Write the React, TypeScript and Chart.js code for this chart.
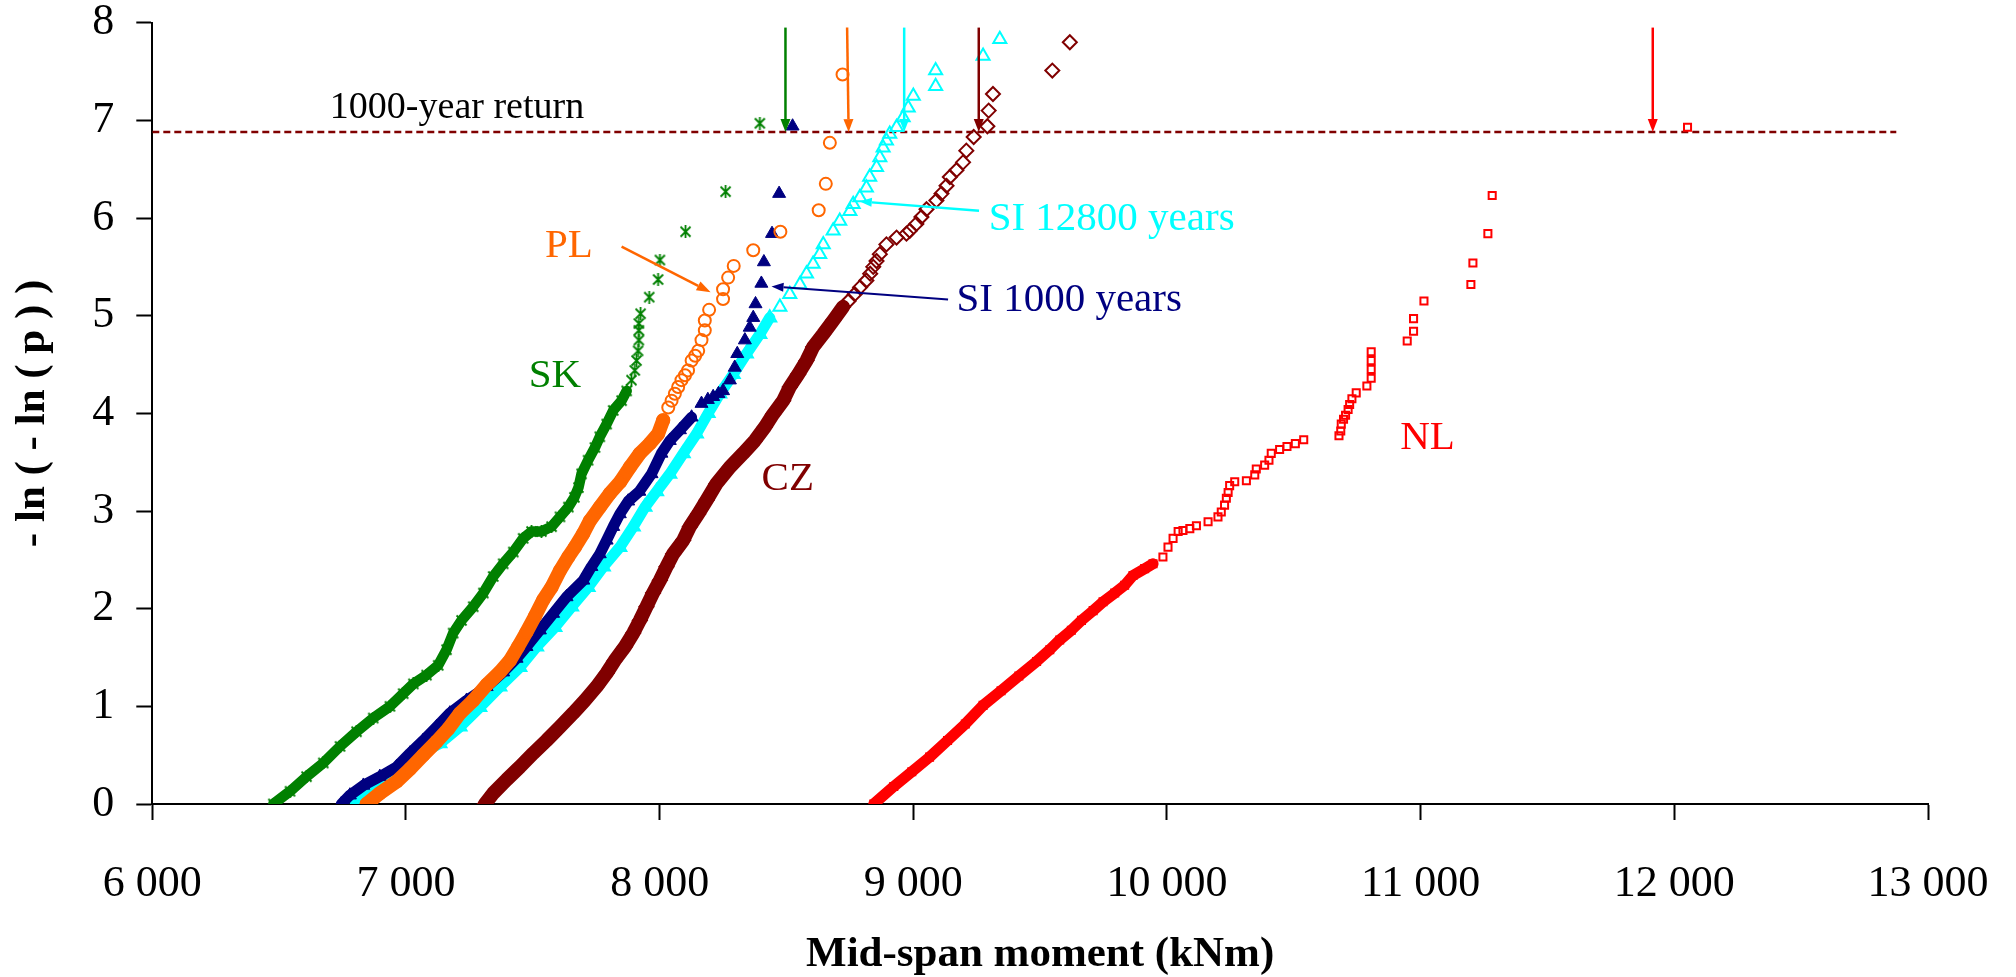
import { useEffect, useRef } from 'react';
import { Chart, registerables } from 'chart.js';

Chart.register(...registerables);

type Pt = [number, number];

// ---------- data (x = mid-span moment kNm, y = -ln(-ln(p))) ----------
const skDense: Pt[] = [
  [6477, 0.0], [6543, 0.13], [6608, 0.28], [6674, 0.42], [6740, 0.59], [6805, 0.74], [6871, 0.88],
  [6937, 1.0], [6989, 1.13], [7029, 1.23], [7081, 1.32], [7127, 1.42], [7160, 1.58], [7186, 1.75],
  [7219, 1.88], [7265, 2.02], [7305, 2.16], [7344, 2.33], [7383, 2.46], [7423, 2.58], [7462, 2.72],
  [7495, 2.79], [7534, 2.79], [7574, 2.84], [7607, 2.94], [7640, 3.04], [7664, 3.14], [7680, 3.24],
  [7692, 3.38], [7718, 3.52], [7745, 3.65], [7764, 3.76], [7791, 3.89], [7817, 4.03], [7850, 4.13],
  [7870, 4.23],
];
const skTail: Pt[] = [
  [7889, 4.34], [7902, 4.44], [7909, 4.54], [7915, 4.64], [7918, 4.75], [7918, 4.85],
  [7918, 4.92], [7925, 5.02], [7959, 5.19], [7994, 5.37], [8001, 5.57], [8102, 5.86], [8260, 6.27],
  [8395, 6.97],
];

const plDense: Pt[] = [
  [6845, 0.0], [6897, 0.11], [6963, 0.23], [7016, 0.36], [7068, 0.5], [7121, 0.64], [7167, 0.77],
  [7213, 0.93], [7265, 1.06], [7318, 1.22], [7370, 1.35], [7410, 1.47], [7442, 1.61], [7475, 1.76],
  [7508, 1.92], [7541, 2.09], [7574, 2.22], [7607, 2.39], [7640, 2.53], [7666, 2.63], [7699, 2.77],
  [7725, 2.9], [7764, 3.04], [7804, 3.18], [7845, 3.3], [7883, 3.45], [7922, 3.59], [7961, 3.69],
  [7994, 3.79], [8014, 3.93],
];
const plTail: Pt[] = [
  [8034, 4.06], [8047, 4.13], [8060, 4.2], [8073, 4.27], [8086, 4.34], [8100, 4.39], [8112, 4.44],
  [8126, 4.54], [8140, 4.59], [8152, 4.64], [8165, 4.75], [8178, 4.85], [8178, 4.95], [8195, 5.06],
  [8250, 5.17], [8250, 5.27], [8270, 5.39], [8292, 5.51], [8369, 5.67], [8476, 5.86], [8627, 6.08],
  [8655, 6.35], [8671, 6.77], [8721, 7.47],
];

const si1000Dense: Pt[] = [
  [6745, 0.0], [6779, 0.09], [6832, 0.19], [6897, 0.28], [6963, 0.38], [7016, 0.52], [7068, 0.65],
  [7121, 0.79], [7173, 0.93], [7239, 1.06], [7318, 1.2], [7383, 1.35], [7436, 1.49], [7475, 1.61],
  [7528, 1.78], [7580, 1.95], [7633, 2.12], [7699, 2.29], [7731, 2.43], [7764, 2.56], [7791, 2.7],
  [7817, 2.84], [7843, 2.97], [7876, 3.1], [7920, 3.2], [7968, 3.38], [8007, 3.59], [8040, 3.72],
  [8080, 3.83], [8126, 3.96],
];
const si1000Tail: Pt[] = [
  [8165, 4.1], [8190, 4.14], [8211, 4.17], [8232, 4.2], [8250, 4.23], [8277, 4.34], [8296, 4.47],
  [8306, 4.61], [8336, 4.75], [8355, 4.88], [8369, 4.98], [8378, 5.12], [8401, 5.33], [8411, 5.55],
  [8443, 5.84], [8471, 6.25], [8524, 6.94],
];

const si12800Dense: Pt[] = [
  [6800, 0.0], [6900, 0.25], [6963, 0.36], [7055, 0.51], [7134, 0.62], [7213, 0.79], [7291, 0.99],
  [7370, 1.2], [7449, 1.4], [7515, 1.61], [7587, 1.81], [7653, 2.02], [7718, 2.22], [7778, 2.43],
  [7843, 2.63], [7896, 2.84], [7942, 3.04], [7988, 3.2], [8040, 3.38], [8093, 3.59], [8145, 3.79],
  [8191, 4.0], [8237, 4.2], [8290, 4.4], [8342, 4.61], [8395, 4.81], [8434, 4.98],
];
const si12800Tail: Pt[] = [
  [8474, 5.09], [8513, 5.22], [8553, 5.32], [8579, 5.43], [8605, 5.53], [8631, 5.63], [8645, 5.73],
  [8684, 5.87], [8710, 5.97], [8750, 6.07], [8763, 6.14], [8789, 6.21], [8815, 6.31], [8828, 6.42],
  [8855, 6.52], [8868, 6.62], [8881, 6.72], [8894, 6.79], [8907, 6.86], [8934, 6.93], [8960, 7.03],
  [8980, 7.13], [9000, 7.25], [9088, 7.35], [9088, 7.51], [9275, 7.66], [9341, 7.83],
];

const czDense: Pt[] = [
  [7311, 0.0], [7344, 0.11], [7397, 0.25], [7449, 0.38], [7502, 0.52], [7554, 0.65], [7607, 0.79],
  [7659, 0.93], [7705, 1.06], [7751, 1.2], [7791, 1.34], [7823, 1.47], [7863, 1.61], [7896, 1.75],
  [7922, 1.88], [7948, 2.02], [7974, 2.16], [8001, 2.29], [8027, 2.43], [8053, 2.56], [8093, 2.7],
  [8119, 2.84], [8152, 2.97], [8185, 3.11], [8224, 3.28], [8277, 3.45], [8329, 3.59], [8375, 3.72],
  [8415, 3.86], [8447, 3.99], [8487, 4.13], [8513, 4.27], [8546, 4.4], [8579, 4.54], [8605, 4.68],
  [8644, 4.81], [8684, 4.95], [8723, 5.09],
];
const czTail: Pt[] = [
  [8745, 5.15], [8769, 5.22], [8790, 5.29], [8815, 5.36], [8830, 5.43], [8842, 5.5], [8855, 5.56],
  [8868, 5.63], [8894, 5.73], [8934, 5.8], [8973, 5.84], [8986, 5.87], [9012, 5.94], [9032, 6.01],
  [9052, 6.09], [9091, 6.18], [9111, 6.25], [9131, 6.33], [9144, 6.42], [9170, 6.49], [9196, 6.57],
  [9209, 6.69], [9238, 6.83], [9292, 6.94], [9297, 7.1], [9314, 7.27], [9548, 7.51], [9617, 7.8],
];

const nlDense: Pt[] = [
  [8844, 0.0], [8923, 0.18], [8994, 0.33], [9064, 0.48], [9135, 0.65], [9205, 0.82], [9275, 1.01],
  [9346, 1.16], [9416, 1.31], [9486, 1.46], [9538, 1.58], [9577, 1.68], [9623, 1.78], [9663, 1.88],
  [9709, 1.98], [9748, 2.07], [9794, 2.16], [9833, 2.24], [9866, 2.34], [9912, 2.41], [9945, 2.46],
];
const nlTail: Pt[] = [
  [9984, 2.53], [10004, 2.63], [10024, 2.72], [10044, 2.79], [10063, 2.8], [10090, 2.82], [10116, 2.85],
  [10162, 2.89], [10201, 2.94], [10214, 2.99], [10227, 3.06], [10234, 3.13], [10241, 3.19], [10247, 3.26],
  [10267, 3.3], [10313, 3.31], [10346, 3.37], [10352, 3.43], [10385, 3.47], [10402, 3.52], [10411, 3.59],
  [10444, 3.63], [10473, 3.66], [10506, 3.69], [10539, 3.73], [10678, 3.77], [10685, 3.82], [10687, 3.89],
  [10696, 3.94], [10704, 3.98], [10714, 4.04], [10720, 4.09], [10729, 4.15], [10746, 4.21], [10788, 4.28],
  [10805, 4.36], [10805, 4.45], [10805, 4.54], [10805, 4.63], [10947, 4.74], [10972, 4.84], [10972, 4.97],
  [11013, 5.15], [11198, 5.32], [11206, 5.54], [11265, 5.84], [11282, 6.23], [12052, 6.93],
];

const returnLevel = 6.88;
const returnLineX: number[] = [6000, 12875];

const xTickValues = [6000, 7000, 8000, 9000, 10000, 11000, 12000, 13000];
const xTickLabels = ['6 000', '7 000', '8 000', '9 000', '10 000', '11 000', '12 000', '13 000'];
const yTickLabels = ['0', '1', '2', '3', '4', '5', '6', '7', '8'];

// annotation anchors in data units
const arrowTop = 7.95;
const skArrowX = 8496;
const plArrowX: Pt = [8739, 8745];
const si12800ArrowX = 8964;
const czArrowX = 9258;
const nlArrowX = 11915;
const plPointer: Pt[] = [[7850, 5.707], [8201, 5.24]];
const si12800Pointer: Pt[] = [[9259, 6.075], [8789, 6.17]];
const si1000Pointer: Pt[] = [[9137, 5.165], [8441, 5.3]];

const labelReturn: Pt = [6700, 7.027];
const labelSK: Pt = [7587, 4.268];
const labelPL: Pt = [7642, 5.605];
const labelCZ: Pt = [8505, 3.212];
const labelSI12800: Pt = [9297, 5.878];
const labelSI1000: Pt = [9170, 5.053];
const labelNL: Pt = [11027, 3.638];

// ---------- styles ----------
const FONT = '"Liberation Serif", "Times New Roman", Times, serif';
const GREEN = '#008000';
const ORANGE = '#FF6600';
const NAVY = '#000080';
const CYAN = '#00FFFF';
const MAROON = '#800000';
const RED = '#FF0000';

const toXY = (a: Pt[]) => a.map(([x, y]) => ({ x, y }));

function drawArrow(ctx: CanvasRenderingContext2D, x1: number, y1: number, x2: number, y2: number,
  color: string, width: number, headLen: number, headW: number) {
  const dx = x2 - x1, dy = y2 - y1;
  const len = Math.hypot(dx, dy);
  const ux = dx / len, uy = dy / len;
  const bx = x2 - ux * headLen, by = y2 - uy * headLen;
  ctx.strokeStyle = color;
  ctx.lineWidth = width;
  ctx.lineCap = 'butt';
  ctx.beginPath();
  ctx.moveTo(x1, y1);
  ctx.lineTo(bx, by);
  ctx.stroke();
  ctx.fillStyle = color;
  ctx.beginPath();
  ctx.moveTo(x2, y2);
  ctx.lineTo(bx - uy * headW / 2, by + ux * headW / 2);
  ctx.lineTo(bx + uy * headW / 2, by - ux * headW / 2);
  ctx.closePath();
  ctx.fill();
}

const annotationsPlugin = {
  id: 'annotations',
  afterDatasetsDraw(chart: any) {
    const ctx: CanvasRenderingContext2D = chart.ctx;
    const xs = chart.scales.x, ys = chart.scales.y;
    const px = (v: number) => xs.getPixelForValue(v);
    const py = (v: number) => ys.getPixelForValue(v);
    ctx.save();
    const vert: [number, number, string][] = [
      [skArrowX, skArrowX, GREEN],
      [plArrowX[0], plArrowX[1], ORANGE],
      [si12800ArrowX, si12800ArrowX, CYAN],
      [czArrowX, czArrowX, MAROON],
      [nlArrowX, nlArrowX, RED],
    ];
    vert.forEach(([a, b, c]) => drawArrow(ctx, px(a), py(arrowTop), px(b), py(returnLevel), c, 2.5, 13, 10));
    drawArrow(ctx, px(plPointer[0][0]), py(plPointer[0][1]), px(plPointer[1][0]), py(plPointer[1][1]), ORANGE, 2.5, 14, 10);
    drawArrow(ctx, px(si12800Pointer[0][0]), py(si12800Pointer[0][1]), px(si12800Pointer[1][0]), py(si12800Pointer[1][1]), CYAN, 2.4, 12, 9);
    drawArrow(ctx, px(si1000Pointer[0][0]), py(si1000Pointer[0][1]), px(si1000Pointer[1][0]), py(si1000Pointer[1][1]), NAVY, 2, 12, 9);

    const texts: [string, Pt, string, number, CanvasTextAlign][] = [
      ['1000-year return', labelReturn, '#000000', 38, 'left'],
      ['SK', labelSK, GREEN, 41, 'center'],
      ['PL', labelPL, ORANGE, 41, 'center'],
      ['CZ', labelCZ, MAROON, 41, 'center'],
      ['SI 12800 years', labelSI12800, CYAN, 41, 'left'],
      ['SI 1000 years', labelSI1000, NAVY, 41, 'left'],
      ['NL', labelNL, RED, 41, 'center'],
    ];
    ctx.textBaseline = 'alphabetic';
    texts.forEach(([t, at, color, size, align]) => {
      ctx.font = `${size}px ${FONT}`;
      ctx.fillStyle = color;
      ctx.textAlign = align;
      ctx.fillText(t, px(at[0]), py(at[1]));
    });
    ctx.restore();
  },
};

export default function App() {
  const ref = useRef<HTMLCanvasElement>(null);

  useEffect(() => {
    document.body.style.margin = '0';
    if (!ref.current) return;

    const star = document.createElement('canvas');
    star.width = 13;
    star.height = 13;
    const sc = star.getContext('2d')!;
    sc.strokeStyle = GREEN;
    sc.lineWidth = 1.8;
    sc.beginPath();
    sc.moveTo(1.5, 1.5); sc.lineTo(11.5, 11.5);
    sc.moveTo(11.5, 1.5); sc.lineTo(1.5, 11.5);
    sc.moveTo(6.5, 0); sc.lineTo(6.5, 13);
    sc.stroke();

    const mk = (dense: Pt[], tail: Pt[], color: string, pointStyle: any, radius: number,
      filled: boolean, band: number, pbw: number) => {
      const common = {
        pointStyle,
        pointRadius: radius,
        pointHoverRadius: radius,
        pointBorderColor: color,
        pointBackgroundColor: filled ? color : 'rgba(0,0,0,0)',
        pointBorderWidth: pbw,
        borderColor: color,
      };
      return [
        { ...common, data: toXY(dense), showLine: true, borderWidth: band, borderCapStyle: 'round', borderJoinStyle: 'round', tension: 0 },
        { ...common, data: toXY(tail), showLine: false, borderWidth: 0 },
      ];
    };

    const tickFont = { family: FONT, size: 44 };
    const titleFont = { family: FONT, size: 43, weight: 'bold' as const };
    const grid = { drawOnChartArea: false, drawTicks: true, tickLength: 16, tickWidth: 2, tickColor: '#000000' };
    const border = { display: true, color: '#000000', width: 2 };

    const chart = new Chart(ref.current, {
      type: 'scatter',
      data: {
        datasets: [
          ...mk(plDense, plTail, ORANGE, 'circle', 6, false, 14, 2),
          ...mk(si1000Dense, si1000Tail, NAVY, 'triangle', 7.5, true, 11, 1),
          ...mk(si12800Dense, si12800Tail, CYAN, 'triangle', 7.5, false, 11, 2),
          ...mk(skDense, skTail, GREEN, star, 6, false, 10.5, 1),
          ...mk(czDense, czTail, MAROON, 'rectRot', 7, false, 14, 2),
          ...mk(nlDense, nlTail, RED, 'rect', 5, false, 11, 2),
          {
            data: returnLineX.map((x) => ({ x, y: returnLevel })),
            showLine: true,
            borderColor: MAROON,
            borderWidth: 2.5,
            borderDash: [7, 4],
            pointRadius: 0,
          },
        ] as any,
      },
      options: {
        animation: false,
        responsive: false,
        devicePixelRatio: 1,
        events: [],
        layout: { padding: { top: 22.7, right: 88, bottom: 0, left: 0 } },
        plugins: { legend: { display: false }, tooltip: { enabled: false } },
        scales: {
          x: {
            type: 'linear',
            min: 6000,
            max: 13000,
            afterBuildTicks: (s: any) => { s.ticks = xTickValues.map((v) => ({ value: v })); },
            ticks: {
              padding: 38,
              color: '#000000',
              font: tickFont,
              maxRotation: 0,
              autoSkip: false,
              callback: (v: any) => xTickLabels[xTickValues.indexOf(Number(v))] ?? '',
            },
            grid,
            border,
            title: { display: true, text: 'Mid-span moment (kNm)', color: '#000000', font: titleFont, padding: { top: 0, bottom: -4 } },
            afterFit: (s: any) => { s.height = 173; s.paddingLeft = 0; s.paddingRight = 0; },
          },
          y: {
            type: 'linear',
            min: 0,
            max: 8,
            ticks: {
              stepSize: 1,
              padding: 22,
              color: '#000000',
              font: tickFont,
              callback: (v: any) => yTickLabels[Math.round(Number(v))] ?? '',
            },
            grid,
            border,
            title: { display: true, text: '- ln ( - ln ( p ) )', color: '#000000', font: titleFont, padding: { top: 7, bottom: 0 } },
            afterFit: (s: any) => { s.width = 152.3; s.paddingTop = 0; s.paddingBottom = 0; },
          },
        },
      } as any,
      plugins: [annotationsPlugin],
    });

    return () => chart.destroy();
  }, []);

  return (
    <div style={{ position: 'absolute', left: 0, top: 0, width: 2016, height: 977, background: '#ffffff' }}>
      <canvas ref={ref} width={2016} height={977} style={{ display: 'block', width: 2016, height: 977 }} />
    </div>
  );
}
